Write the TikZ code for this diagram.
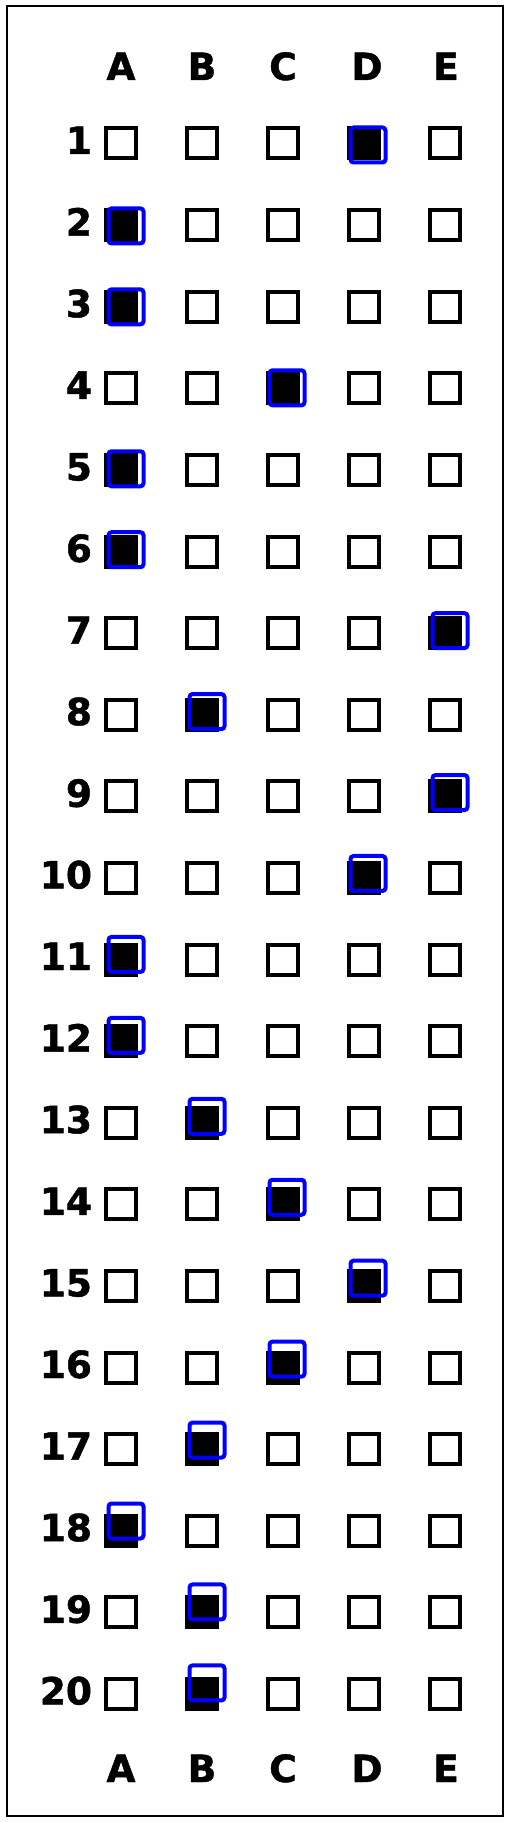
\documentclass[tikz,border=0pt]{standalone}
\usepackage{fontspec}
\setmainfont{DejaVu Sans}
\newfontfamily\heavy{DejaVu Sans Bold}[FakeBold=1.2]
\begin{document}
\begin{tikzpicture}[x=1pt,y=-1pt,
  lbl/.style={font=\fontsize{37.5}{38}\heavy, inner sep=0pt, outer sep=0pt},
  cbox/.style={draw=black, line width=4pt, minimum size=30pt, inner sep=0pt, outer sep=0pt},
  markbox/.style={draw=blue, line width=4pt, rounded corners=3pt, minimum size=35pt, inner sep=0pt, outer sep=0pt}]
\useasboundingbox (0,0) rectangle (510,1822);
\node[draw=black, line width=1.2pt, minimum width=496pt, minimum height=1810pt, inner sep=0pt] (frame) at (255,911) {};
% column letters
\foreach \L/\x in {A/121,B/202,C/283,D/367,E/446}{
  \node[lbl, anchor=base] (top\L) at (\x,80) {\L};
  \node[lbl, anchor=base] (bot\L) at (\x,1782) {\L};
}
% rows
\foreach \r/\ans in {1/4,2/1,3/1,4/3,5/1,6/1,7/5,8/2,9/5,10/4,11/1,12/1,13/2,14/3,15/4,16/3,17/2,18/1,19/2,20/2}{
  \pgfmathsetmacro{\yy}{143.5+(\r-1)*81.6}
  \pgfmathsetmacro{\yb}{\yy+10.5}
  \node[lbl, anchor=base east] (num\r) at (92,\yb) {\r};
  \foreach \c/\x in {1/121,2/202,3/283,4/364,5/445}{
    \ifnum\c=\ans\relax \def\fc{black}\else\def\fc{none}\fi
    \node[cbox, fill=\fc] (b\r-\c) at (\x,\yy) {};
  }
  \pgfmathsetmacro{\dy}{1.5-12.5*(\r-1)/19}
  \pgfmathsetmacro{\dx}{(\ans==3 || \ans==4) ? 4 : 5}
  \node[markbox] (m\r) at ([shift={(\dx,\dy)}]b\r-\ans.center) {};
}
\end{tikzpicture}
\end{document}
